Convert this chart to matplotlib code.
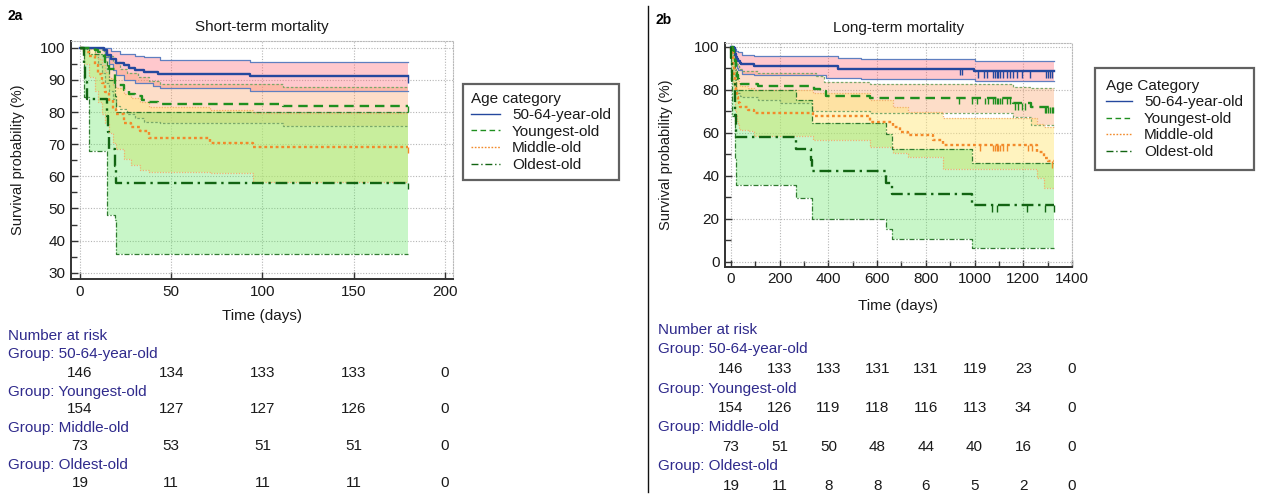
import numpy as np
import matplotlib
matplotlib.use('Agg')
import matplotlib.pyplot as plt
from matplotlib.lines import Line2D
from matplotlib.ticker import MultipleLocator
from matplotlib.transforms import blended_transform_factory

plt.rcParams['font.family'] = ['Liberation Sans', 'DejaVu Sans']

GROUPS = ['50-64-year-old', 'Youngest-old', 'Middle-old', 'Oldest-old']

# ---------------- Short-term (days 0-180) ----------------
SHORT_END = 180
ST_A_T = [0, 13, 15, 17, 20, 24, 27, 30, 35, 43, 93]
ST_A_V = [100, 99.3, 97.9, 96.6, 95.2, 94.5, 93.8, 93.2, 92.5, 91.8, 91.1]
ST_A_HI_T = [0, 17, 22, 30, 35, 44, 93]
ST_A_HI_V = [100, 99, 98.2, 97.5, 97, 96.3, 95.6]
ST_A_LO_T = [0, 14, 16, 18, 20, 24, 30, 40, 44, 93]
ST_A_LO_V = [100, 97, 95, 93, 91.5, 90, 89, 88.2, 87.4, 86.5]

ST_B_T = [0, 8, 10, 12, 14, 16, 19, 24, 27, 30, 34, 38, 43, 111]
ST_B_V = [100, 99.4, 98.7, 97.4, 95.5, 93.5, 88.3, 87.0, 85.7, 85.1, 83.8, 83.1, 82.5, 81.9]
ST_B_HI_T = [0, 12, 15, 18, 22, 26, 32, 38, 44, 111]
ST_B_HI_V = [100, 99, 97.5, 95.5, 93.5, 92, 90.8, 89.8, 88.6, 87.9]
ST_B_LO_T = [0, 8, 10, 12, 14, 16, 18, 20, 22, 26, 30, 35, 44, 111]
ST_B_LO_V = [100, 97, 95, 92, 89, 86.5, 84, 82, 80.8, 79.5, 78.3, 77, 76.5, 75.7]

ST_C_T = [0, 2, 5, 8, 10, 12, 14, 16, 18, 20, 24, 28, 33, 38, 71, 95]
ST_C_V = [100, 98.6, 97.3, 94.5, 91.8, 89.0, 86.3, 83.6, 80.8, 79.5, 76.7, 75.3, 74.0, 71.9, 70.5, 69.1]
ST_C_HI_T = [0, 4, 8, 10, 12, 14, 16, 18, 20, 24, 28, 33, 38, 71, 95]
ST_C_HI_V = [100, 99.5, 98, 96.5, 94.5, 92.5, 90.5, 88.5, 87.5, 85.5, 84.3, 83, 81.6, 80.6, 79.8]
ST_C_LO_T = [0, 2, 5, 8, 10, 12, 14, 16, 18, 20, 24, 28, 33, 38, 71, 95]
ST_C_LO_V = [100, 95, 91, 86.5, 83, 79.5, 76.5, 73.5, 70.5, 68.5, 65.5, 63.5, 62, 61.4, 60.9, 58.3]

ST_D_T = [0, 2, 3, 4, 15, 15.5, 16, 19, 20]
ST_D_V = [100, 94.7, 89.5, 84.2, 78.9, 73.7, 68.4, 63.2, 57.9]
ST_D_HI_T = [0, 4, 5, 14, 15, 16, 19, 20]
ST_D_HI_V = [100, 99.5, 98, 96, 93.5, 90, 85, 80.1]
ST_D_LO_T = [0, 2, 5, 15, 19, 20]
ST_D_LO_V = [100, 84.8, 68, 48, 46.5, 35.8]

ST_RISK_T = [0, 50, 100, 150, 200]
ST_RISK = [[146, 134, 133, 133, 0],
           [154, 127, 127, 126, 0],
           [73, 53, 51, 51, 0],
           [19, 11, 11, 11, 0]]

# ---------------- Long-term (days 0-~1325) ----------------
LONG_END = 1325
LT_A_T = [0, 13, 15, 17, 20, 24, 27, 30, 35, 43, 93, 441, 996]
LT_A_V = [100, 99.3, 97.9, 96.6, 95.2, 94.5, 93.8, 93.2, 92.5, 91.8, 91.1, 89.8, 88.6]
LT_A_HI_T = [0, 17, 22, 30, 44, 93, 441, 533, 1003]
LT_A_HI_V = [100, 99, 98.2, 97.5, 96.3, 95.6, 94.9, 94.3, 93.4]
LT_A_LO_T = [0, 14, 16, 18, 20, 24, 30, 44, 93, 390, 533, 1003]
LT_A_LO_V = [100, 97, 95, 93, 91.5, 90, 89, 87.4, 86.8, 85.6, 84.8, 83.9]
LT_A_CENS = [941, 948, 1016, 1037, 1050, 1077, 1084, 1091, 1098, 1104, 1118, 1132,
             1145, 1159, 1173, 1193, 1227, 1295, 1302, 1309, 1316]

LT_B_T = [0, 8, 10, 12, 14, 16, 19, 24, 27, 30, 34, 38, 43, 111, 340, 365, 390, 571, 1159, 1233]
LT_B_V = [100, 99.4, 98.7, 97.4, 95.5, 93.5, 88.3, 87.0, 85.7, 85.1, 83.8, 83.1, 82.5, 81.9,
          80.5, 79.2, 77.1, 76.2, 73.7, 72.1]
LT_B_HI_T = [0, 12, 15, 18, 22, 26, 32, 38, 44, 111, 350, 380, 571, 1159, 1233]
LT_B_HI_V = [100, 99, 97.5, 95.5, 93.5, 92, 90.8, 89.8, 88.6, 87.9, 86.5, 83.6, 82.8, 81.4, 80.6]
LT_B_LO_T = [0, 8, 10, 12, 14, 16, 18, 20, 22, 26, 30, 35, 44, 111, 200, 332, 571, 1159, 1233]
LT_B_LO_V = [100, 97, 95, 92, 89, 86.5, 84, 82, 80.8, 79.5, 78.3, 77, 76.5, 75.2, 73.8, 70.3,
             69.3, 67.4, 63.6]
LT_B_CENS = [935, 989, 1009, 1043, 1057, 1077, 1084, 1091, 1098, 1104, 1111, 1132, 1145,
             1166, 1180, 1193, 1207, 1289, 1295, 1302, 1309, 1316, 1322]

LT_C_T = [0, 2, 5, 8, 10, 12, 14, 16, 18, 20, 24, 28, 33, 38, 71, 95, 338, 571, 667, 694,
          728, 831, 872, 1256, 1283, 1303]
LT_C_V = [100, 98.6, 97.3, 94.5, 91.8, 89.0, 86.3, 83.6, 80.8, 79.5, 76.7, 75.3, 74.0, 71.9,
          70.5, 69.1, 67.8, 64.8, 62.8, 60.5, 58.9, 56.6, 54.3, 51.2, 48.4, 46.8]
LT_C_HI_T = [0, 4, 8, 10, 12, 14, 16, 18, 20, 24, 28, 33, 38, 71, 95, 338, 571, 667, 728,
             872, 1256, 1283]
LT_C_HI_V = [100, 99.5, 98, 96.5, 94.5, 92.5, 90.5, 88.5, 87.5, 85.5, 84.3, 83, 81.6, 80.6,
             79.8, 78.5, 75.2, 72.1, 69.8, 66.7, 64.0, 62.5]
LT_C_LO_T = [0, 2, 5, 8, 10, 12, 14, 16, 18, 20, 24, 28, 33, 38, 71, 95, 338, 571, 667, 728,
             872, 1256, 1283]
LT_C_LO_V = [100, 95, 91, 86.5, 83, 79.5, 76.5, 73.5, 70.5, 68.5, 65.5, 63.5, 62, 61.4, 60.9,
             58.3, 56.8, 53.5, 50.8, 48.5, 43.0, 39.0, 34.2]
LT_C_CENS = [1023, 1077, 1084, 1091, 1098, 1104, 1118, 1132, 1220, 1234, 1316]

LT_D_T = [0, 2, 3, 4, 15, 15.5, 16, 19, 20, 268, 329, 332, 635, 660, 988]
LT_D_V = [100, 94.7, 89.5, 84.2, 78.9, 73.7, 68.4, 63.2, 57.9, 52.6, 47.4, 42.1, 36.8, 31.6, 26.3]
LT_D_HI_T = [0, 4, 5, 14, 15, 16, 19, 20, 268, 332, 635, 660, 988]
LT_D_HI_V = [100, 99.5, 98, 96, 93.5, 90, 85, 80.1, 75.2, 64.4, 59.5, 52.4, 46.0]
LT_D_LO_T = [0, 2, 5, 15, 19, 20, 268, 332, 635, 660, 988]
LT_D_LO_V = [100, 84.8, 68, 48, 46.5, 35.8, 29.8, 19.7, 15.3, 10.7, 6.2]
LT_D_CENS = [1070, 1091, 1216, 1289, 1325]

LT_RISK_T = [0, 200, 400, 600, 800, 1000, 1200, 1400]
LT_RISK = [[146, 133, 133, 131, 131, 119, 23, 0],
           [154, 126, 119, 118, 116, 113, 34, 0],
           [73, 51, 50, 48, 44, 40, 16, 0],
           [19, 11, 8, 8, 6, 5, 2, 0]]

# ---------------- styles ----------------
MAIN_COL = ['#24489e', '#1f8f1f', '#f28a2a', '#126412']
MAIN_LS = ['-', (0, (4, 2.5)), (0, (1.2, 1.2)), (0, (5, 2, 1, 2))]
CI_COL = ['#5f7fc0', '#7aa86a', '#f2b070', '#2f7a2f']
CI_LS = ['-', (0, (2, 1.5)), (0, (1, 1.2)), (0, (4, 1.5, 1, 1.5))]
FILL_COL = ['#ff6470', '#fa9a5a', '#ffe880', '#5ae65a']
FILL_ALPHA = [0.35, 0.33, 0.5, 0.33]
GROUP_LABEL_COL = '#2f2a8c'
FS = 11

W, H = 1266, 495
fig = plt.figure(figsize=(W / 100, H / 100), dpi=100)


def fx(px):
    return px / W


def fy(py):
    return 1 - py / H


def stepval(T, V, t):
    T = np.asarray(T, float)
    V = np.asarray(V, float)
    idx = np.searchsorted(T, t, side='right') - 1
    return V[np.clip(idx, 0, len(V) - 1)]


def draw_panel(ax, curves, end, cens, cens_len):
    for g, (T, V, HT, HV, LT, LV) in enumerate(curves):
        grid = np.unique(np.concatenate([HT, LT, [end]]))
        hi = stepval(HT, HV, grid)
        lo = stepval(LT, LV, grid)
        ax.fill_between(grid, lo, hi, step='post', color=FILL_COL[g],
                        alpha=FILL_ALPHA[g], lw=0, zorder=1)
    for g, (T, V, HT, HV, LT, LV) in enumerate(curves):
        for bt, bv in ((HT, HV), (LT, LV)):
            ax.step(list(bt) + [end], list(bv) + [bv[-1]], where='post',
                    color=CI_COL[g], lw=0.9, ls=CI_LS[g], zorder=2)
    for g, (T, V, HT, HV, LT, LV) in enumerate(curves):
        ax.step(list(T) + [end], list(V) + [V[-1]], where='post',
                color=MAIN_COL[g], lw=1.7, ls=MAIN_LS[g], zorder=3)
        ct = np.asarray(cens[g], float)
        if len(ct):
            cv = stepval(T, V, ct)
            ax.vlines(ct, cv - cens_len, cv, color=MAIN_COL[g], lw=1.0, zorder=3)


def style_axes(ax):
    for s in ('left', 'bottom'):
        ax.spines[s].set_color('#333333')
        ax.spines[s].set_linewidth(1.4)
    for s in ('top', 'right'):
        ax.spines[s].set_color('#b8b8b8')
        ax.spines[s].set_linewidth(0.8)
        ax.spines[s].set_linestyle((0, (1, 1.5)))
    ax.tick_params(which='both', direction='in', colors='#333333', labelcolor='#1a1a1a',
                   labelsize=FS, width=1.0)
    ax.tick_params(which='major', length=5, pad=4)
    ax.tick_params(which='minor', length=4)
    ax.grid(True, which='major', color='#b5b5b5', lw=0.8, ls=(0, (1, 1.5)), zorder=0)
    ax.set_axisbelow(True)


def legend(ax, title, x0, y0, bpad, tpad, hlen, lspace):
    handles = [Line2D([], [], color=MAIN_COL[g], ls=MAIN_LS[g], lw=1.0) for g in range(4)]
    leg = ax.legend(handles, GROUPS, title=title, loc='upper left',
                    bbox_to_anchor=(fx(x0), fy(y0)), bbox_transform=fig.transFigure,
                    borderaxespad=0, frameon=True, fancybox=False, fontsize=FS,
                    title_fontsize=FS, alignment='left', handlelength=hlen,
                    handletextpad=tpad, labelspacing=lspace, borderpad=bpad)
    leg.get_frame().set_edgecolor('#3a3a3a')
    leg.get_frame().set_linewidth(1.6)
    leg.get_title().set_color('#1a1a1a')
    for t in leg.get_texts():
        t.set_color('#1a1a1a')


def risk_table(ax, risk_t, risk, x_left, rows_y, num_y, head_y):
    fig.text(fx(x_left), fy(head_y), 'Number at risk', color=GROUP_LABEL_COL,
             fontsize=FS, va='center', ha='left')
    tr = blended_transform_factory(ax.transData, fig.transFigure)
    for g in range(4):
        fig.text(fx(x_left), fy(rows_y[g]), 'Group: ' + GROUPS[g], color=GROUP_LABEL_COL,
                 fontsize=FS, va='center', ha='left')
        for t, n in zip(risk_t, risk[g]):
            fig.text(t, fy(num_y[g]), str(n), transform=tr, color='#1a1a1a',
                     fontsize=FS, va='center', ha='center')


# ---------------- Left panel ----------------
axL = fig.add_axes([fx(71), fy(279.3), fx(453) - fx(71), fy(40.7) - fy(279.3)])
style_axes(axL)
curvesS = [(ST_A_T, ST_A_V, ST_A_HI_T, ST_A_HI_V, ST_A_LO_T, ST_A_LO_V),
           (ST_B_T, ST_B_V, ST_B_HI_T, ST_B_HI_V, ST_B_LO_T, ST_B_LO_V),
           (ST_C_T, ST_C_V, ST_C_HI_T, ST_C_HI_V, ST_C_LO_T, ST_C_LO_V),
           (ST_D_T, ST_D_V, ST_D_HI_T, ST_D_HI_V, ST_D_LO_T, ST_D_LO_V)]
draw_panel(axL, curvesS, SHORT_END, [[SHORT_END]] * 4, 2.0)
axL.set_xlim(-4.9, 204.4)
axL.set_ylim(27.95, 102.2)
axL.xaxis.set_major_locator(MultipleLocator(50))
axL.yaxis.set_major_locator(MultipleLocator(10))
axL.yaxis.set_minor_locator(MultipleLocator(5))
axL.set_xlabel('Time (days)', fontsize=FS, color='#1a1a1a', labelpad=7)
axL.set_ylabel('Survival probability (%)', fontsize=10.5, color='#1a1a1a', labelpad=11)
axL.set_title('Short-term mortality', fontsize=FS, color='#1a1a1a', pad=7)
legend(axL, 'Age category', 463, 84, 0.5, 0.8, 1.9, 0.17)
risk_table(axL, ST_RISK_T, ST_RISK, 8,
           [354.3, 391.7, 428.3, 465], [372.7, 409.3, 446, 483.3], 335.7)

# ---------------- Right panel ----------------
axR = fig.add_axes([fx(725), fy(266.7), fx(1072) - fx(725), fy(42.7) - fy(266.7)])
style_axes(axR)
curvesL = [(LT_A_T, LT_A_V, LT_A_HI_T, LT_A_HI_V, LT_A_LO_T, LT_A_LO_V),
           (LT_B_T, LT_B_V, LT_B_HI_T, LT_B_HI_V, LT_B_LO_T, LT_B_LO_V),
           (LT_C_T, LT_C_V, LT_C_HI_T, LT_C_HI_V, LT_C_LO_T, LT_C_LO_V),
           (LT_D_T, LT_D_V, LT_D_HI_T, LT_D_HI_V, LT_D_LO_T, LT_D_LO_V)]
draw_panel(axR, curvesL, LONG_END, [LT_A_CENS, LT_B_CENS, LT_C_CENS, LT_D_CENS], 3.0)
axR.set_xlim(-24.6, 1400)
axR.set_ylim(-2.3, 101.9)
axR.xaxis.set_major_locator(MultipleLocator(200))
axR.xaxis.set_minor_locator(MultipleLocator(100))
axR.yaxis.set_major_locator(MultipleLocator(20))
axR.yaxis.set_minor_locator(MultipleLocator(10))
axR.set_xlabel('Time (days)', fontsize=FS, color='#1a1a1a', labelpad=9)
axR.set_ylabel('Survival probability (%)', fontsize=10.5, color='#1a1a1a', labelpad=15)
axR.set_title('Long-term mortality', fontsize=FS, color='#1a1a1a', pad=8)
legend(axR, 'Age Category', 1095, 68, 0.7, 0.8, 1.7, 0.17)
risk_table(axR, LT_RISK_T, LT_RISK, 658,
           [349.3, 389, 427.3, 466], [369.3, 408.3, 447.3, 485.7], 330)

# panel labels and separator
fig.text(fx(7), fy(16), '2a', fontsize=10, fontweight='bold', va='center', ha='left')
fig.text(fx(655), fy(20), '2b', fontsize=10, fontweight='bold', va='center', ha='left')
fig.add_artist(Line2D([fx(648), fx(648)], [fy(6), fy(492)], color='#111111', lw=1.0))

fig.savefig('out.png', dpi=100)
